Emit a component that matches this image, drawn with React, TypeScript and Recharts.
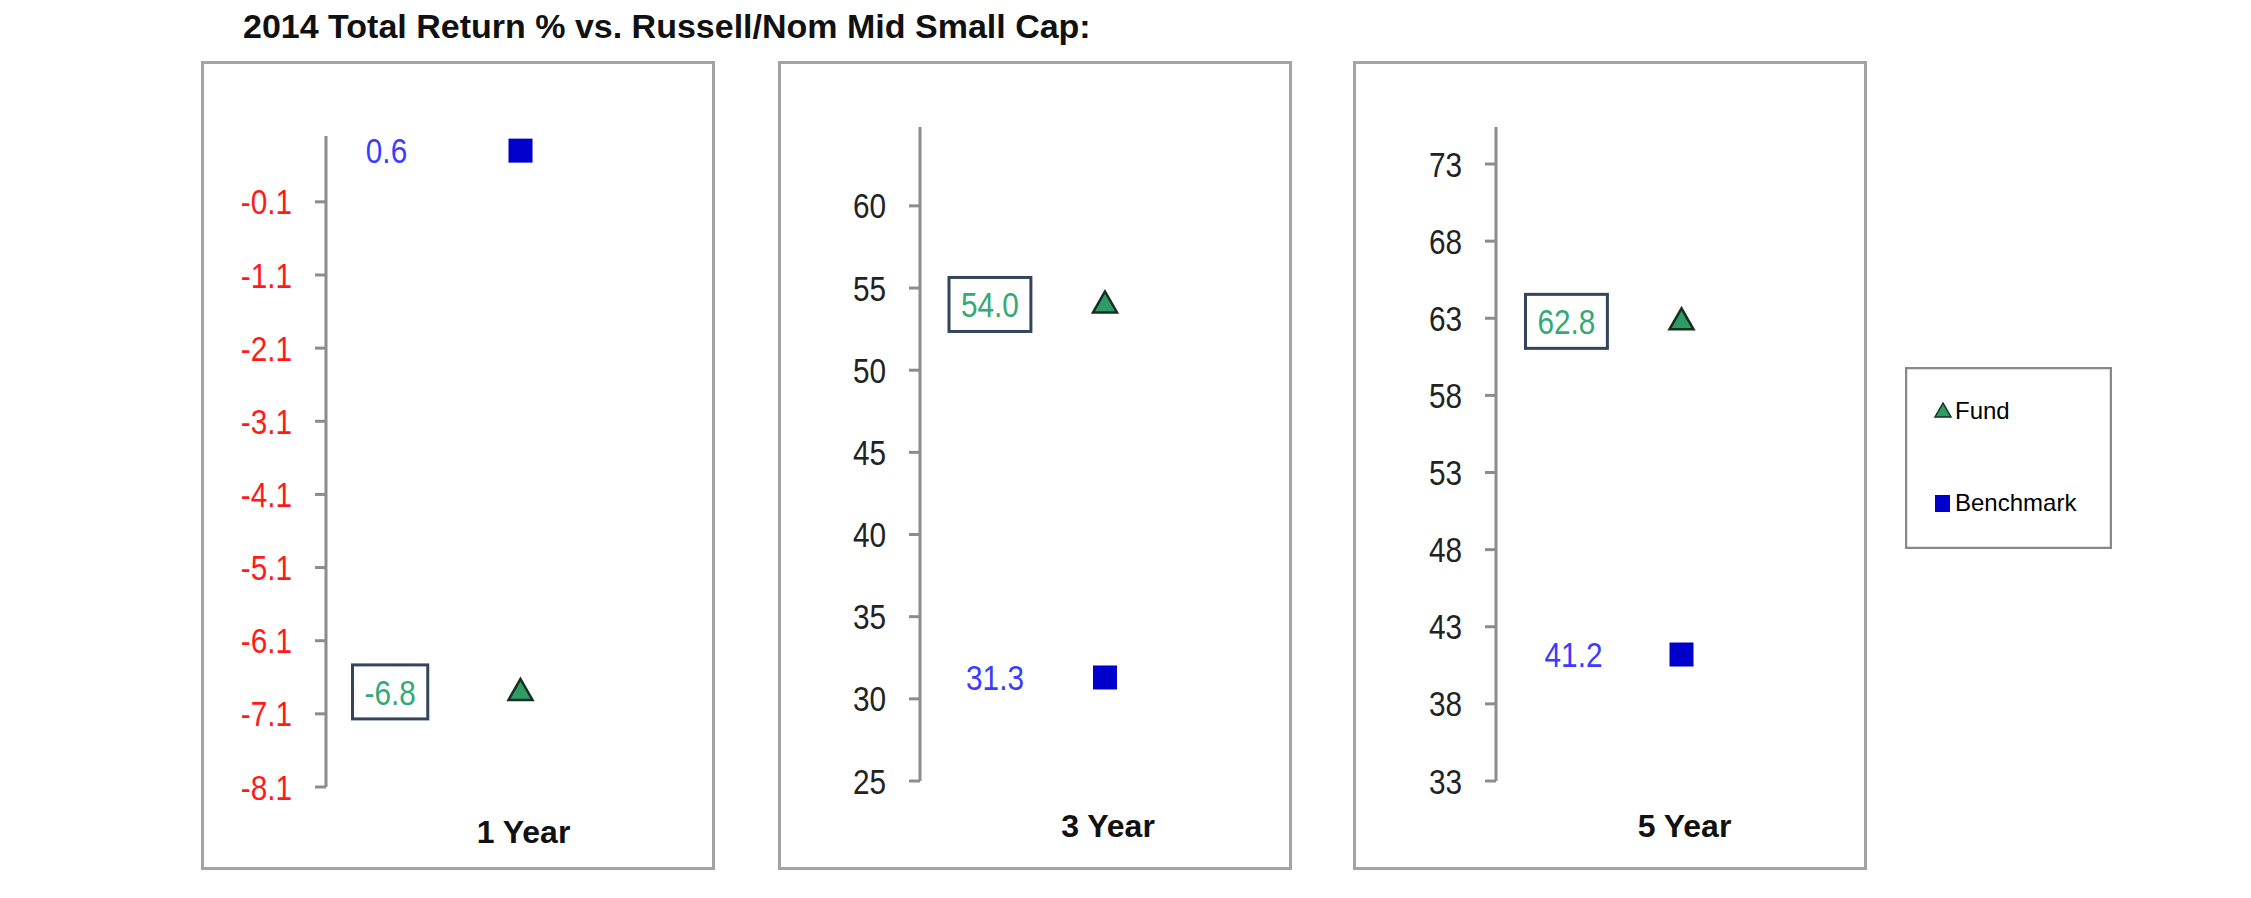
import React from 'react'
import { ComposedChart, Scatter, XAxis, YAxis, Legend } from 'recharts'

const periods = ['1 Year', '3 Year', '5 Year']
const fundReturns = [-6.8, 54.0, 62.8]
const benchmarkReturns = [0.6, 31.3, 41.2]
const oneYearTicks = [-8.1, -7.1, -6.1, -5.1, -4.1, -3.1, -2.1, -1.1, -0.1]
const threeYearTicks = [25, 30, 35, 40, 45, 50, 55, 60]
const fiveYearTicks = [33, 38, 43, 48, 53, 58, 63, 68, 73]
const axisDomains: [number, number][] = [[-8.1, 0.8], [25, 64.8], [33, 75.4]]
const axisTicks = [oneYearTicks, threeYearTicks, fiveYearTicks]
const tickDecimals = [1, 0, 0]
const seriesOrder = ['fund', 'benchmark']

const PANEL_W = 514
const PANEL_H = 809
const PANEL_TOP = 61

// per panel placement
const panelLayout = [
    { left: 201, axisWidth: 125, top: 75, xAxisHeight: 83, right: 0, tickColor: '#ff1a1a', boxDx: -168, benchDx: -134 },
    { left: 778, axisWidth: 142, top: 66, xAxisHeight: 89, right: 2, tickColor: '#222222', boxDx: -156, benchDx: -110 },
    { left: 1353, axisWidth: 143, top: 66, xAxisHeight: 89, right: 0, tickColor: '#222222', boxDx: -156, benchDx: -108 },
]

const FONT = '"Liberation Sans", Arial, sans-serif'
const NARROW = 0.85
const VALUE_SIZE = 35

const charWidth = (ch: string) => (ch === '.' ? 0.278 : ch === '-' ? 0.333 : 0.556)
const valueTextWidth = (s: string) => s.split('').reduce((w, c) => w + charWidth(c), 0) * VALUE_SIZE * NARROW

function NarrowText({ x, y, text, color, anchor }: any) {
    return (
        <g transform={`translate(${x},${y}) scale(${NARROW},1)`}>
            <text x={0} y={0} dy="0.36em" textAnchor={anchor} fill={color} fontSize={VALUE_SIZE} fontFamily={FONT}>
                {text}
            </text>
        </g>
    )
}

function FundMarker({ cx, cy, payload, boxDx }: any) {
    const label = payload.fund.toFixed(1)
    const w = valueTextWidth(label) + 24
    const left = cx + boxDx
    return (
        <g>
            <rect x={left} y={cy - 27} width={w} height={54} fill="#ffffff" stroke="#34445f" strokeWidth={3} />
            <NarrowText x={left + w / 2} y={cy} text={label} color="#35a873" anchor="middle" />
            <polygon
                points={`${cx},${cy - 13} ${cx - 12},${cy + 8} ${cx + 12},${cy + 8}`}
                fill="#2f9b66"
                stroke="#16301f"
                strokeWidth={2.5}
            />
        </g>
    )
}

function BenchmarkMarker({ cx, cy, payload, benchDx }: any) {
    return (
        <g>
            <NarrowText x={cx + benchDx} y={cy} text={payload.benchmark.toFixed(1)} color="#3b3bff" anchor="middle" />
            <rect x={cx - 12} y={cy - 12} width={24} height={24} fill="#0000cc" />
        </g>
    )
}

function LegendBox({ payload }: any) {
    const items = [...(payload || [])].sort(
        (a: any, b: any) => seriesOrder.indexOf(a.dataKey) - seriesOrder.indexOf(b.dataKey)
    )
    return (
        <svg width={207} height={182} style={{ display: 'block' }}>
            <rect x={1} y={1} width={205} height={180} fill="#ffffff" stroke="#888888" strokeWidth={2.5} />
            {items.map((entry: any, i: number) => {
                const y = i === 0 ? 44 : 136
                return (
                    <g key={entry.value}>
                        {entry.dataKey === 'fund' ? (
                            <polygon points={`38,${y - 8} 30,${y + 6} 46,${y + 6}`} fill="#2f9b66" stroke="#16301f" strokeWidth={1.5} />
                        ) : (
                            <rect x={30} y={y - 8} width={15} height={17} fill="#0000cc" />
                        )}
                        <text x={50} y={y + 8} fontSize={24} fontFamily={FONT} fill="#000000">
                            {entry.value}
                        </text>
                    </g>
                )
            })}
        </svg>
    )
}

function ReturnPanel({ index }: { index: number }) {
    const layout = panelLayout[index]
    const rows = [{ period: periods[index], fund: fundReturns[index], benchmark: benchmarkReturns[index] }]
    const decimals = tickDecimals[index]

    return (
        <div style={{ position: 'absolute', left: layout.left, top: PANEL_TOP, width: PANEL_W, height: PANEL_H }}>
            <div
                style={{
                    position: 'absolute',
                    left: 0,
                    top: 0,
                    width: PANEL_W,
                    height: PANEL_H,
                    boxSizing: 'border-box',
                    border: '3px solid #a3a3a3',
                }}
            />
            <div style={{ position: 'absolute', left: 0, top: 0 }}>
                <ComposedChart
                    width={PANEL_W}
                    height={PANEL_H}
                    data={rows}
                    margin={{ top: layout.top, right: layout.right, bottom: 0, left: 0 }}
                >
                    <XAxis
                        dataKey="period"
                        type="category"
                        scale="point"
                        axisLine={false}
                        tickLine={false}
                        tickSize={0}
                        tickMargin={0}
                        interval={0}
                        height={layout.xAxisHeight}
                        tick={(p: any) => (
                            <text
                                x={p.x + 3}
                                y={p.y + 56}
                                textAnchor="middle"
                                fontSize={32}
                                fontWeight="bold"
                                fontFamily={FONT}
                                fill="#111111"
                            >
                                {p.payload.value}
                            </text>
                        )}
                    />
                    <YAxis
                        type="number"
                        domain={axisDomains[index]}
                        ticks={axisTicks[index]}
                        interval={0}
                        allowDataOverflow
                        width={layout.axisWidth}
                        axisLine={{ stroke: '#8c8c8c', strokeWidth: 3 }}
                        tickLine={{ stroke: '#8c8c8c', strokeWidth: 3 }}
                        tickSize={11}
                        tickMargin={23}
                        tick={(p: any) => (
                            <NarrowText
                                x={p.x}
                                y={p.y}
                                text={Number(p.payload.value).toFixed(decimals)}
                                color={layout.tickColor}
                                anchor="end"
                            />
                        )}
                    />
                    <Scatter
                        name="Fund"
                        dataKey="fund"
                        isAnimationActive={false}
                        shape={(p: any) => <FundMarker {...p} boxDx={layout.boxDx} />}
                    />
                    <Scatter
                        name="Benchmark"
                        dataKey="benchmark"
                        isAnimationActive={false}
                        shape={(p: any) => <BenchmarkMarker {...p} benchDx={layout.benchDx} />}
                    />
                    {index === 2 && (
                        <Legend
                            layout="horizontal"
                            align="center"
                            verticalAlign="middle"
                            content={(p: any) => <LegendBox payload={p.payload} />}
                            wrapperStyle={{ left: 552, top: 306, width: 207, height: 182 }}
                        />
                    )}
                </ComposedChart>
            </div>
        </div>
    )
}

export default function App() {
    return (
        <div style={{ position: 'absolute', left: 0, top: 0, width: 2251, height: 898, background: '#ffffff', overflow: 'hidden' }}>
            <div
                style={{
                    position: 'absolute',
                    left: 243,
                    top: 9,
                    fontFamily: FONT,
                    fontWeight: 'bold',
                    fontSize: 34,
                    lineHeight: '34px',
                    color: '#111111',
                    whiteSpace: 'nowrap',
                }}
            >
                2014 Total Return % vs. Russell/Nom Mid Small Cap:
            </div>
            {periods.map((_, i) => (
                <ReturnPanel key={periods[i]} index={i} />
            ))}
        </div>
    )
}
